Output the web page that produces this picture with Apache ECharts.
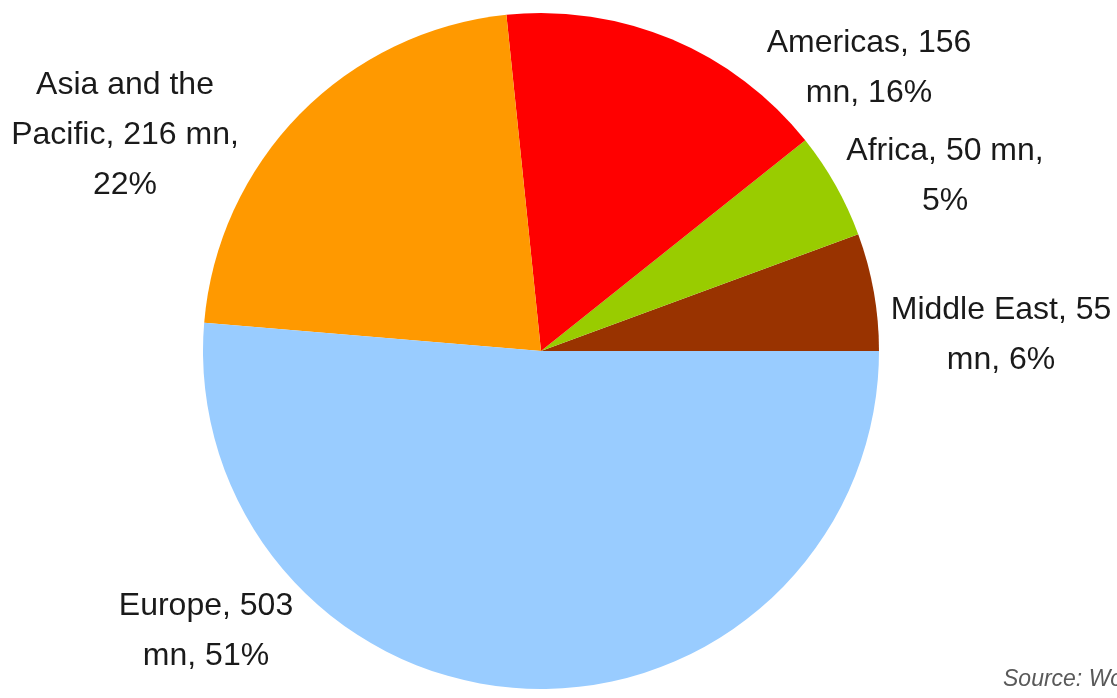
<!DOCTYPE html>
<html>
<head>
<meta charset="utf-8">
<script src="https://cdn.jsdelivr.net/npm/echarts@6/dist/echarts.min.js"></script>
<style>
html,body{margin:0;padding:0;background:#fff;}
#chart{width:1117px;height:698px;}
</style>
</head>
<body>
<div id="chart"></div>
<script>
// Data (counter-clockwise from 3 o'clock)
const categories = ['Middle East', 'Africa', 'Americas', 'Asia and the Pacific', 'Europe'];
const values = [55, 50, 156, 216, 503];
const colors = ['#993300', '#99CC00', '#FF0000', '#FF9900', '#99CCFF'];
// label line-break templates
const labelTemplates = {
  'Middle East': '{n}, {v}\nmn, {p}%',
  'Africa': '{n}, {v} mn,\n{p}%',
  'Americas': '{n}, {v}\nmn, {p}%',
  'Asia and the Pacific': 'Asia and the\nPacific, {v} mn,\n{p}%',
  'Europe': '{n}, {v}\nmn, {p}%'
};
// label centre positions (layout styling)
const labelPos = {
  'Middle East': [1001, 335],
  'Africa': [945, 176],
  'Americas': [869, 68],
  'Asia and the Pacific': [125, 135],
  'Europe': [206, 631]
};

const chart = echarts.init(document.getElementById('chart'), null, {renderer: 'canvas'});
const font = '"Liberation Sans Narrow", "Arial Narrow", "Liberation Sans", Arial, sans-serif';
chart.setOption({
  animation: false,
  backgroundColor: '#ffffff',
  series: [{
    type: 'pie',
    center: [541, 351],
    radius: [0, 338],
    startAngle: 0,
    clockwise: false,
    percentPrecision: 0,
    avoidLabelOverlap: false,
    itemStyle: {borderWidth: 0},
    label: {
      show: true,
      position: 'outside',
      color: '#1a1a1a',
      fontFamily: font,
      fontSize: 32,
      lineHeight: 50,
      align: 'center',
      formatter: function (p) {
        return labelTemplates[p.name]
          .replace('{n}', p.name)
          .replace('{v}', p.value)
          .replace('{p}', Math.round(p.percent));
      }
    },
    labelLine: {show: false},
    labelLayout: function (params) {
      const name = categories[params.dataIndex];
      const pos = labelPos[name];
      return {x: pos[0], y: pos[1], align: 'center', verticalAlign: 'middle'};
    },
    emphasis: {disabled: true},
    data: categories.map((c, i) => ({name: c, value: values[i], itemStyle: {color: colors[i]}}))
  }],
  graphic: [{
    type: 'text',
    left: 1003,
    top: 668,
    style: {
      text: 'Source: World Tourism Organization',
      fill: '#595959',
      font: 'italic 23px "Liberation Sans", Arial, sans-serif'
    }
  }]
});
</script>
</body>
</html>
